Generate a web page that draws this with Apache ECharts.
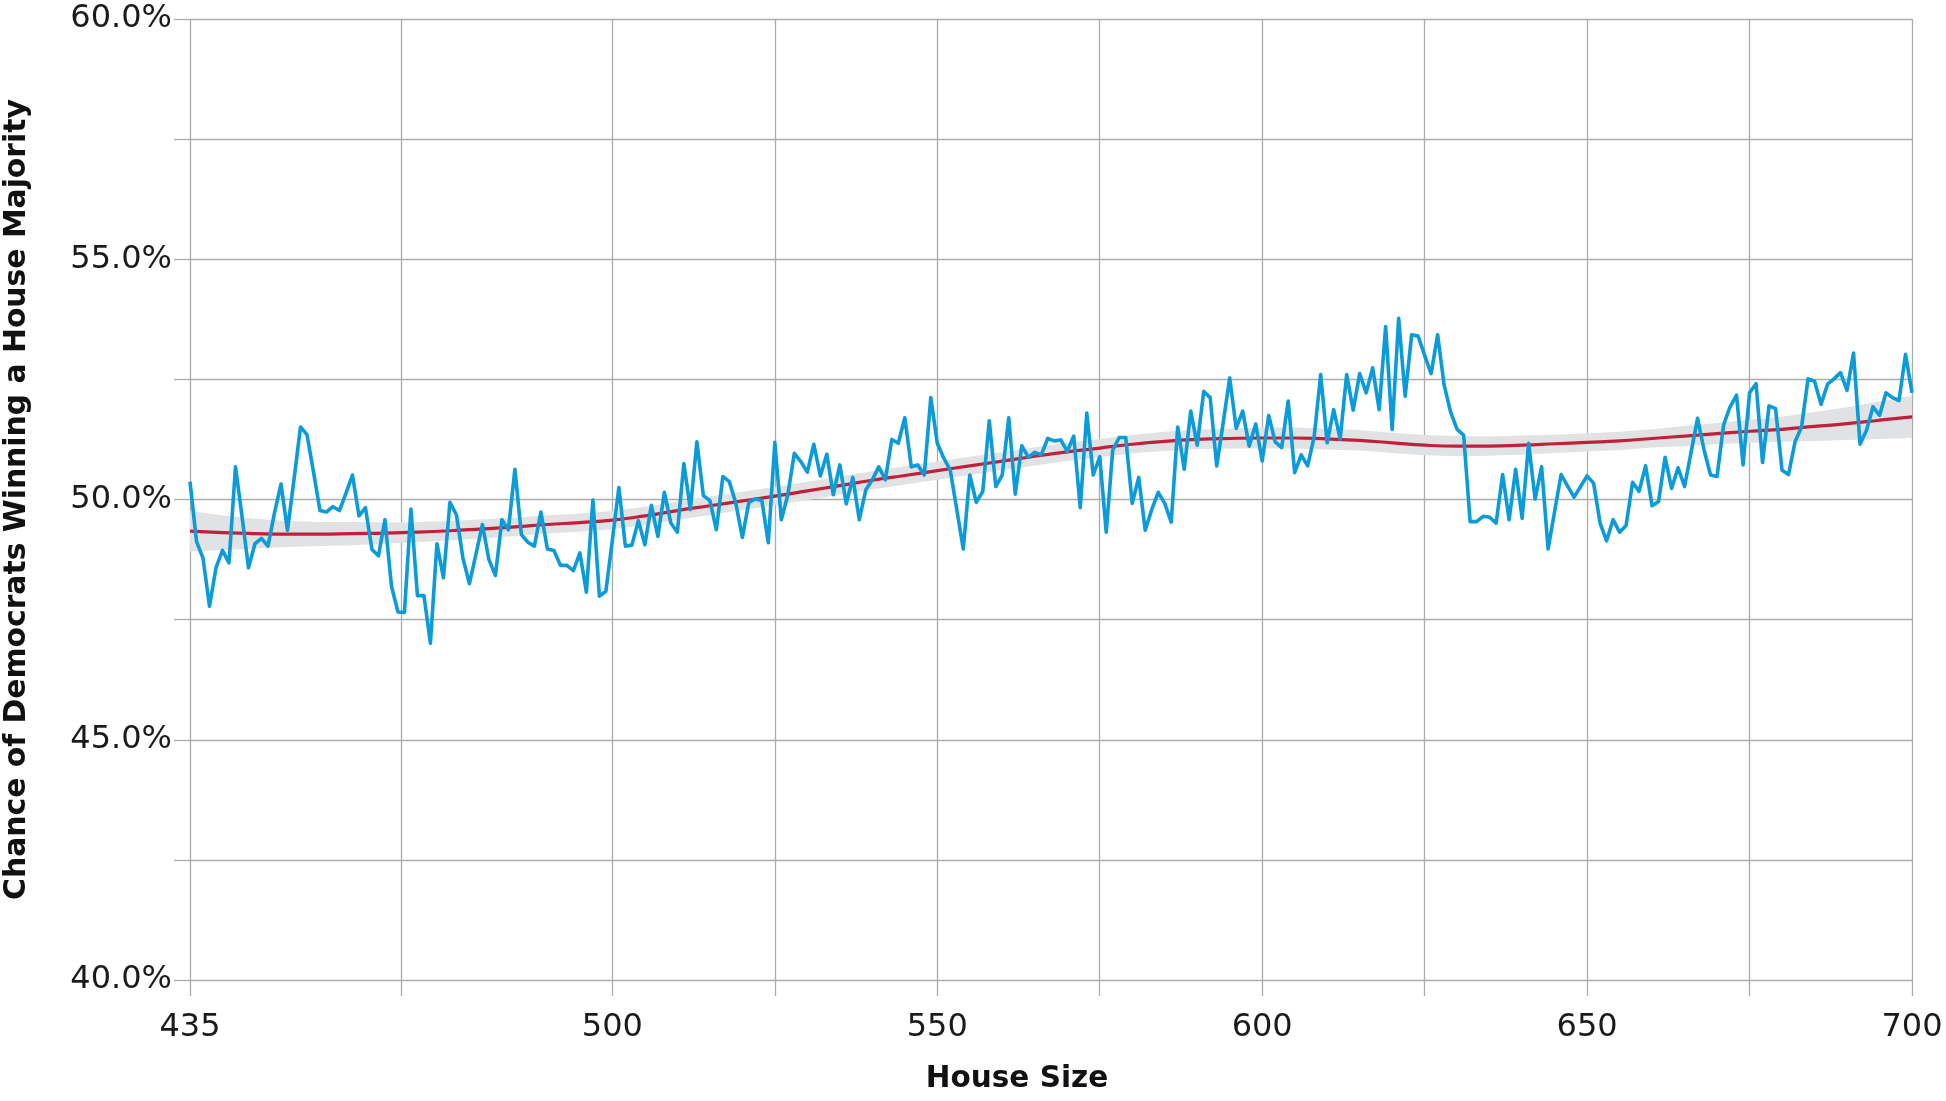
<!DOCTYPE html>
<html><head><meta charset="utf-8">
<script src="https://cdn.jsdelivr.net/npm/echarts@6/dist/echarts.min.js"></script>
<style>html,body{margin:0;padding:0;background:#fff}#chart{width:1946px;height:1101px}</style>
</head><body><div id="chart"></div>
<script>
// Chance of Democrats winning a House majority (%) for each House size 435..700
const winChance = [
50.37,49.13,48.78,47.78,48.58,48.94,48.68,50.68,49.65,48.58,
49.08,49.19,49.03,49.72,50.32,49.36,50.41,51.51,51.35,50.58,
49.77,49.74,49.85,49.77,50.13,50.51,49.66,49.83,48.96,48.83,
49.58,48.20,47.66,47.65,49.80,48.00,48.00,47.01,49.08,48.37,
49.94,49.68,48.78,48.25,48.86,49.48,48.75,48.42,49.58,49.37,
50.63,49.27,49.11,49.03,49.74,48.97,48.94,48.63,48.63,48.52,
48.89,48.07,49.99,47.99,48.09,49.16,50.25,49.03,49.05,49.56,
49.06,49.88,49.23,50.15,49.51,49.32,50.75,49.79,51.20,50.08,
49.98,49.37,50.48,50.37,49.92,49.21,49.94,50.01,49.98,49.10,
51.19,49.58,50.10,50.96,50.79,50.57,51.15,50.49,50.94,50.10,
50.72,49.91,50.46,49.58,50.20,50.41,50.68,50.41,51.25,51.17,
51.70,50.68,50.72,50.51,52.12,51.17,50.86,50.61,49.79,48.97,
50.51,49.94,50.17,51.64,50.27,50.51,51.70,50.11,51.12,50.88,
50.98,50.93,51.27,51.22,51.24,51.00,51.32,49.83,51.80,50.51,
50.89,49.32,51.03,51.29,51.29,49.92,50.46,49.36,49.79,50.15,
49.92,49.53,51.51,50.63,51.84,51.13,52.25,52.12,50.70,51.60,
52.53,51.48,51.84,51.11,51.57,50.80,51.75,51.20,51.08,52.05,
50.56,50.93,50.70,51.31,52.60,51.18,51.87,51.26,52.60,51.86,
52.62,52.22,52.74,51.87,53.60,51.46,53.77,52.15,53.43,53.40,
53.00,52.62,53.43,52.38,51.82,51.46,51.34,49.54,49.54,49.65,
49.63,49.51,50.52,49.58,50.63,49.61,51.17,50.01,50.68,48.97,
49.75,50.52,50.28,50.05,50.27,50.49,50.34,49.51,49.14,49.58,
49.32,49.46,50.36,50.17,50.70,49.87,49.96,50.88,50.23,50.66,
50.27,50.98,51.69,51.03,50.51,50.48,51.55,51.93,52.17,50.72,
52.22,52.41,50.77,51.95,51.89,50.61,50.52,51.20,51.51,52.51,
52.46,51.98,52.40,52.51,52.64,52.27,53.05,51.15,51.44,51.93,
51.75,52.22,52.12,52.06,53.02,52.22
];
const firstHouseSize = 435;
const houseSize = winChance.map((_, i) => firstHouseSize + i);

// Smoothed trend (loess) and half-width of its confidence band
const smoothX = [435,440,445,450,455,460,465,470,475,480,485,490,495,500,505,510,515,520,525,530,535,540,545,550,555,560,565,570,575,580,585,590,595,600,605,610,615,620,625,630,635,640,645,650,655,660,665,670,675,680,685,690,695,700];
const smoothY = [49.34,49.31,49.29,49.28,49.28,49.29,49.30,49.32,49.35,49.39,49.43,49.48,49.52,49.57,49.66,49.77,49.87,49.97,50.07,50.18,50.29,50.40,50.50,50.60,50.70,50.80,50.90,50.99,51.07,51.15,51.21,51.25,51.27,51.28,51.28,51.26,51.23,51.18,51.13,51.11,51.11,51.13,51.16,51.19,51.22,51.27,51.32,51.37,51.42,51.46,51.52,51.58,51.65,51.72];
const smoothSe = [0.42,0.36,0.31,0.27,0.25,0.24,0.22,0.21,0.20,0.20,0.19,0.19,0.19,0.19,0.19,0.19,0.19,0.19,0.19,0.19,0.19,0.19,0.19,0.19,0.19,0.19,0.19,0.19,0.19,0.19,0.20,0.20,0.21,0.22,0.22,0.22,0.21,0.21,0.21,0.21,0.20,0.20,0.19,0.19,0.19,0.19,0.21,0.22,0.24,0.26,0.30,0.34,0.39,0.44];

const xLabelTicks = [435,500,550,600,650,700];
const xAllTicks = [435,467.5,500,525,550,575,600,625,650,675,700];
const yMin = 40, yMax = 60, yStep = 2.5, yLabelStep = 5;

const FONT = '"DejaVu Sans", sans-serif';
const gridColor = '#ababab';

const chart = echarts.init(document.getElementById('chart'), null, {renderer: 'canvas'});
chart.setOption({
  animation: false,
  backgroundColor: '#ffffff',
  grid: {left: 190, right: 34, top: 19, bottom: 121, containLabel: false, outerBoundsMode: 'none'},
  xAxis: {
    type: 'value', min: 435, max: 700,
    name: 'House Size', nameLocation: 'middle', nameGap: 84,
    nameTextStyle: {fontFamily: FONT, fontSize: 29.5, fontWeight: 'bold', color: '#111', padding: [0, 68, 0, 0]},
    axisLine: {show: false},
    axisTick: {show: true, length: 16, customValues: xAllTicks, lineStyle: {color: gridColor, width: 1.3}},
    axisLabel: {customValues: xLabelTicks, margin: 32, fontFamily: FONT, fontSize: 32, color: '#1a1a1a'},
    splitLine: {show: true, lineStyle: {color: gridColor, width: 1.3}}
  },
  yAxis: {
    type: 'value', min: yMin, max: yMax, interval: yStep,
    name: 'Chance of Democrats Winning a House Majority', nameLocation: 'middle', nameGap: 158,
    nameTextStyle: {fontFamily: FONT, fontSize: 29.8, fontWeight: 'bold', color: '#111'},
    axisLine: {show: false},
    axisTick: {show: true, length: 16, lineStyle: {color: gridColor, width: 1.3}},
    axisLabel: {margin: 18, fontFamily: FONT, fontSize: 32, color: '#1a1a1a',
      formatter: v => (Math.abs(v % yLabelStep) < 1e-9 ? v.toFixed(1) + '%' : '')},
    splitLine: {show: true, lineStyle: {color: gridColor, width: 1.3}}
  },
  series: [
    {type: 'custom', name: 'band', silent: true, clip: true, z: 1,
      data: smoothX.map((x, i) => [x, smoothY[i]]),
      encode: {x: 0, y: 1},
      renderItem: (params, api) => {
        if (params.dataIndex !== 0) return null;
        const upper = smoothX.map((x, i) => api.coord([x, smoothY[i] + smoothSe[i]]));
        const lower = smoothX.map((x, i) => api.coord([x, smoothY[i] - smoothSe[i]])).reverse();
        return {type: 'polygon', shape: {points: upper.concat(lower), smooth: 0}, style: {fill: '#e1e2e4'}};
      }},
    {type: 'line', name: 'trend', symbol: 'none', smooth: true,
      lineStyle: {color: '#c1203a', width: 3.2}, data: smoothX.map((x, i) => [x, smoothY[i]]), z: 2},
    {type: 'line', name: 'chance', symbol: 'none', smooth: false,
      lineStyle: {color: '#0a9bd8', width: 3.6, join: 'round'},
      data: houseSize.map((x, i) => [x, winChance[i]]), z: 3}
  ]
});
</script></body></html>
